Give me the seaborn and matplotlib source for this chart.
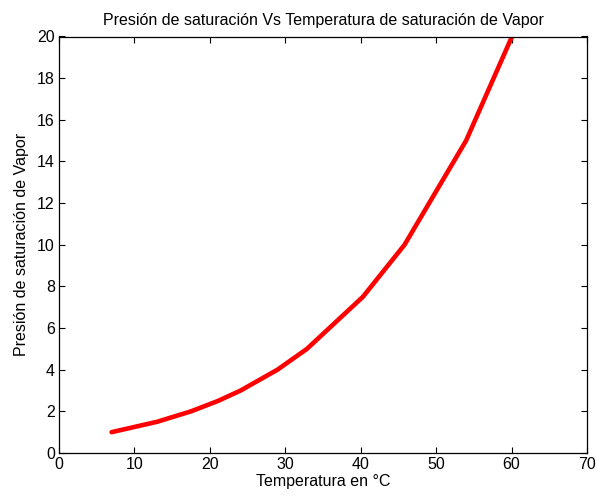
import matplotlib
matplotlib.use("Agg")
import matplotlib.pyplot as plt
import seaborn as sns
import pandas as pd

temperatura = [6.97, 13.02, 17.50, 21.08, 24.08, 28.96, 32.87, 40.29, 45.81, 53.97, 60.06]
presion = [1.0, 1.5, 2.0, 2.5, 3.0, 4.0, 5.0, 7.5, 10.0, 15.0, 20.0]
x_ticks = [0, 10, 20, 30, 40, 50, 60, 70]
y_ticks = [0, 2, 4, 6, 8, 10, 12, 14, 16, 18, 20]

sns.set_style("ticks")
plt.rcParams['font.family'] = ['Liberation Sans', 'DejaVu Sans']
plt.rcParams['text.color'] = 'black'
plt.rcParams['axes.labelcolor'] = 'black'

df = pd.DataFrame({"T": temperatura, "P": presion})
fig = plt.figure(figsize=(5.97, 4.96), dpi=100)
ax = fig.add_axes([59/597, 1 - 453/496, (587 - 59)/597, (453 - 36.5)/496])
sns.lineplot(data=df, x="T", y="P", ax=ax, color="#ff0000", linewidth=3.3, sort=False)
ax.set_xlim(0, 70)
ax.set_ylim(0, 20)
ax.set_xticks(x_ticks)
ax.set_yticks(y_ticks)
ax.tick_params(direction="in", top=True, right=True, length=4, width=0.8, labelsize=11.5, colors="black", pad=3)
for s in ax.spines.values():
    s.set_visible(True)
    s.set_linewidth(0.9)
    s.set_color("black")
ax.set_xlabel("Temperatura en °C", fontsize=11.5, labelpad=1, color="black")
ax.set_ylabel("Presión de saturación de Vapor", fontsize=11.5, labelpad=6, color="black")
ax.set_title("Presión de saturación Vs Temperatura de saturación de Vapor", fontsize=11.5, pad=8, color="black")
fig.savefig("out.png", dpi=100)
